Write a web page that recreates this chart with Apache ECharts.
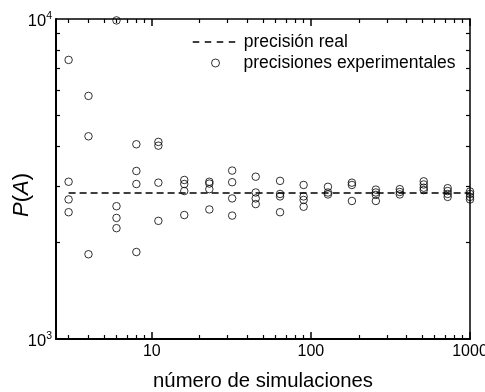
<!DOCTYPE html>
<html><head><meta charset="utf-8">
<script src="https://cdn.jsdelivr.net/npm/echarts@6/dist/echarts.min.js"></script>
<style>html,body{margin:0;padding:0;background:#fff}#c{width:485px;height:392px}</style>
</head><body><div id="c"></div>
<script>
// ---- data ----
const simCounts = [3, 4, 6, 8, 11, 16, 23, 32, 45, 64, 90, 128, 181, 256, 362, 512, 724, 1000];
const experimentalPrecisions = [
  [7450, 3100, 2730, 2490],
  [5750, 4300, 1840],
  [9900, 2600, 2390, 2220],
  [4060, 3350, 3050, 1870],
  [4130, 4020, 3080, 2340],
  [3140, 3050, 2900, 2440],
  [3100, 3060, 2940, 2540],
  [3360, 3090, 2750, 2430],
  [3215, 2870, 2750, 2640],
  [3120, 2840, 2790, 2490],
  [3030, 2790, 2720, 2590],
  [2990, 2870, 2830],
  [3080, 3030, 2700],
  [2930, 2870, 2820, 2700],
  [2940, 2880, 2830],
  [3110, 3040, 2970, 2920],
  [2960, 2900, 2840, 2780],
  [2890, 2840, 2780, 2730]
];
const realRangeX = [3, 1000];
const realPrecision = 2860;
const xMajorTicks = [10, 100, 1000];
const xMinorTicks = [3, 4, 5, 6, 7, 8, 9, 20, 30, 40, 50, 60, 70, 80, 90, 200, 300, 400, 500, 600, 700, 800, 900];
const yLabelTicks = [1000, 10000];
const yMinorTicks = [2000, 3000, 4000, 5000, 6000, 7000, 8000, 9000];
const seriesNames = ['precisión real', 'precisiones experimentales'];
const xTitle = 'número de simulaciones';

// ---- build ----
const scatterData = [];
simCounts.forEach((n, i) => experimentalPrecisions[i].forEach(p => scatterData.push([n, p])));
const realData = realRangeX.map(x => [x, realPrecision]);

const FONT = '"Liberation Sans", Arial, Helvetica, sans-serif';
const X_MIN = 2.5, X_MAX = 1000, Y_MIN = 1000, Y_MAX = 10000;

function xAx(pos, opts) {
  return Object.assign({
    type: 'log', logBase: 10, min: X_MIN, max: X_MAX, position: pos,
    gridIndex: 0,
    splitLine: { show: false }, minorTick: { show: false }, minorSplitLine: { show: false },
    axisLine: { show: false, onZero: false },
    axisTick: { show: false },
    axisLabel: { show: false }
  }, opts);
}
function yAx(pos, opts) {
  return Object.assign({
    type: 'log', logBase: 10, min: Y_MIN, max: Y_MAX, position: pos,
    gridIndex: 0,
    splitLine: { show: false }, minorTick: { show: false }, minorSplitLine: { show: false },
    axisLine: { show: false, onZero: false },
    axisTick: { show: false },
    axisLabel: { show: false }
  }, opts);
}

const chart = echarts.init(document.getElementById('c'), null, { renderer: 'canvas' });
chart.setOption({
  animation: false,
  backgroundColor: '#fff',
  textStyle: { fontFamily: FONT, color: '#000' },
  grid: { left: 56, right: 15, top: 19, bottom: 53, containLabel: false, outerBoundsMode: 'none' },
  legend: [
    {
      data: [seriesNames[0]], left: 192, top: 33, orient: 'vertical',
      itemWidth: 46, itemHeight: 8, itemGap: 0, padding: 0,
      textStyle: { fontFamily: FONT, fontSize: 17.5, color: '#000' },
      lineStyle: { color: '#000', width: 1.5, type: [6.5, 5.5] },
      itemStyle: { color: 'rgba(0,0,0,0)', borderColor: 'rgba(0,0,0,0)', borderWidth: 0, opacity: 0 },
      selectedMode: false
    },
    {
      data: [seriesNames[1]], left: 211, top: 54, orient: 'vertical',
      itemWidth: 46, itemHeight: 8, itemGap: 0, padding: 0,
      icon: 'circle',
      itemStyle: { color: 'rgba(0,0,0,0)', borderColor: '#000', borderWidth: 1 },
      textStyle: { fontFamily: FONT, fontSize: 17.5, color: '#000' },
      selectedMode: false
    }
  ],
  xAxis: [
    xAx('bottom', {
      name: xTitle, nameLocation: 'middle', nameGap: 32, nameMoveOverlap: false,
      nameTextStyle: { fontFamily: FONT, fontSize: 20.3, color: '#000' },
      axisLine: { show: true, onZero: false, lineStyle: { color: '#000', width: 2 } },
      axisTick: { show: true, inside: true, length: 7, customValues: xMajorTicks, lineStyle: { color: '#000', width: 1.5 } },
      axisLabel: { show: true, customValues: xMajorTicks, margin: 5, fontFamily: FONT, fontSize: 16, color: '#000',
        formatter: v => String(Math.round(v)) }
    }),
    xAx('bottom', {
      axisTick: { show: true, inside: true, length: 4, customValues: xMinorTicks, lineStyle: { color: '#000', width: 1.2 } }
    }),
    xAx('top', {
      axisLine: { show: true, onZero: false, lineStyle: { color: '#000', width: 1.5 } },
      axisTick: { show: true, inside: true, length: 7, customValues: xMajorTicks, lineStyle: { color: '#000', width: 1.5 } }
    }),
    xAx('top', {
      axisTick: { show: true, inside: true, length: 4, customValues: xMinorTicks, lineStyle: { color: '#000', width: 1.2 } }
    })
  ],
  yAxis: [
    yAx('left', {
      name: '{i|P}{n|(}{i|A}{n|)}', nameLocation: 'middle', nameGap: 23, nameMoveOverlap: false,
      nameTextStyle: {
        fontFamily: FONT, fontSize: 22, color: '#000', padding: [0, 32, 0, 0],
        rich: {
          i: { fontFamily: FONT, fontSize: 22, fontStyle: 'italic', color: '#000' },
          n: { fontFamily: FONT, fontSize: 22, color: '#000' }
        }
      },
      axisLine: { show: true, onZero: false, lineStyle: { color: '#000', width: 2 } },
      axisTick: { show: true, inside: true, length: 4, customValues: yMinorTicks, lineStyle: { color: '#000', width: 1.2 } },
      axisLabel: {
        show: true, customValues: yLabelTicks, margin: 4,
        formatter: v => '{b|10}{s|' + Math.round(Math.log10(v)) + '}',
        rich: {
          b: { fontFamily: FONT, fontSize: 16.5, color: '#000', padding: [4, 0, 0, 0] },
          s: { fontFamily: FONT, fontSize: 10.5, color: '#000', padding: [0, 0, 6, 0] }
        }
      }
    }),
    yAx('right', {
      axisLine: { show: true, onZero: false, lineStyle: { color: '#000', width: 1.5 } },
      axisTick: { show: true, inside: true, length: 4, customValues: yMinorTicks, lineStyle: { color: '#000', width: 1.2 } }
    })
  ],
  series: [
    {
      name: seriesNames[0], type: 'line', xAxisIndex: 0, yAxisIndex: 0,
      data: realData, symbol: 'none', showSymbol: false,
      lineStyle: { color: '#000', width: 1.6, type: [7, 4] },
      itemStyle: { color: '#000' },
      z: 3
    },
    {
      name: seriesNames[1], type: 'scatter', xAxisIndex: 0, yAxisIndex: 0,
      data: scatterData, symbol: 'circle', symbolSize: 7.5,
      itemStyle: { color: 'rgba(0,0,0,0)', borderColor: '#000', borderWidth: 1 },
      z: 4
    }
  ]
});
</script>
</body></html>
